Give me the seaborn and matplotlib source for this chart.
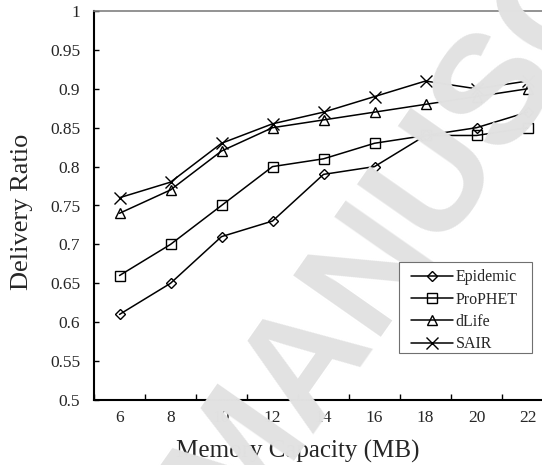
import matplotlib
matplotlib.use("Agg")
import matplotlib.pyplot as plt
from matplotlib.patches import Rectangle
import seaborn as sns
import numpy as np

# ---- data ----
memory = [6, 8, 10, 12, 14, 16, 18, 20, 22]
epidemic = [0.61, 0.65, 0.71, 0.73, 0.79, 0.80, 0.84, 0.85, 0.87]
prophet = [0.66, 0.70, 0.75, 0.80, 0.81, 0.83, 0.84, 0.84, 0.85]
dlife = [0.74, 0.77, 0.82, 0.85, 0.86, 0.87, 0.88, 0.89, 0.90]
sair = [0.76, 0.78, 0.83, 0.855, 0.87, 0.89, 0.91, 0.90, 0.91]
series_names = ["Epidemic", "ProPHET", "dLife", "SAIR"]
x_ticks = [6, 8, 10, 12, 14, 16, 18, 20, 22]
y_ticks = [0.5, 0.55, 0.6, 0.65, 0.7, 0.75, 0.8, 0.85, 0.9, 0.95, 1.0]
y_tick_labels = ["0.5", "0.55", "0.6", "0.65", "0.7", "0.75", "0.8", "0.85", "0.9", "0.95", "1"]

sns.set_style("white")
plt.rcParams["font.family"] = ["Liberation Serif", "Noto Sans CJK SC", "DejaVu Sans"]

fig = plt.figure(figsize=(5.42, 4.65), dpi=100)
ax = fig.add_axes([94 / 542, 65 / 465, 459 / 542, 389 / 465])

markers = ["D", "s", "^", "x"]
msizes = [4.8, 7.3, 7.5, 8.5]
for vals, mk, ms in zip([epidemic, prophet, dlife, sair], markers, msizes):
    sns.lineplot(x=memory, y=vals, ax=ax, color="black", marker=mk,
                 markersize=ms, markerfacecolor="none", markeredgecolor="black",
                 markeredgewidth=1.0, linewidth=1.1, errorbar=None, legend=False)

ax.set_xlim(5, 23)
ax.set_ylim(0.5, 1.0)
ax.set_xticks(x_ticks)
ax.set_xticklabels([str(v) for v in x_ticks])
ax.set_xticks(np.arange(5, 24, 2), minor=True)
ax.set_yticks(y_ticks)
ax.set_yticklabels(y_tick_labels)

ax.tick_params(axis="x", which="major", length=0, pad=7, labelsize=12.5)
ax.tick_params(axis="x", which="minor", direction="in", length=4, width=1.0,
               color="black", bottom=True)
ax.tick_params(axis="y", which="major", direction="in", length=3.5, width=1.0,
               color="black", left=True, pad=10, labelsize=12.5)

for s in ["left", "bottom"]:
    ax.spines[s].set_color("black")
    ax.spines[s].set_linewidth(1.5)
ax.spines["top"].set_color("#808080")
ax.spines["top"].set_linewidth(1.2)
ax.spines["right"].set_visible(False)

ax.set_xlabel("Memory Capacity (MB)", fontsize=18)
ax.xaxis.label.set_va("center")
ax.xaxis.set_label_coords(0.444, -0.131)
ax.set_ylabel("Delivery Ratio", fontsize=19)
ax.yaxis.label.set_va("center")
ax.yaxis.set_label_coords(-0.157, 0.483)

# watermark
fig.text(497 / 542, 1 - 86 / 465, "MANUSCRIPT", rotation=55, rotation_mode="anchor",
         ha="center", va="center", fontsize=112, family="Liberation Sans",
         fontweight="bold", color="#e2e2e2", zorder=10)

# legend frame (box from the reference) and legend entries, drawn above the watermark
frame = Rectangle((0.6645, 0.1208), 0.9542 - 0.6645, 0.3548 - 0.1208,
                  transform=ax.transAxes, facecolor="white",
                  edgecolor="#707070", linewidth=0.8, zorder=11)
fig.add_artist(frame)
leg = fig.legend(handles=ax.lines[:4], labels=series_names, loc="upper left",
                 bbox_to_anchor=(0.6906, 0.336), bbox_transform=ax.transAxes,
                 borderaxespad=0, fontsize=11.5, handlelength=2.6,
                 handletextpad=0.2, labelspacing=0.4, borderpad=0, frameon=False)
leg.set_zorder(12)

fig.savefig("out.png", dpi=100)
